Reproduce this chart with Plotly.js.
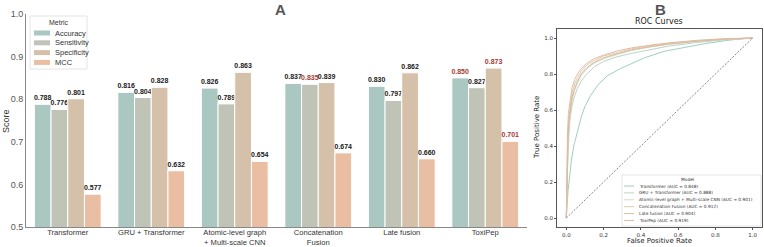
<!DOCTYPE html>
<html>
<head>
<meta charset="utf-8">
<script src="https://cdn.plot.ly/plotly-3.0.1.min.js"></script>
<style>html,body{margin:0;padding:0;background:#fff;}#chart{width:764px;height:247px;}</style>
</head>
<body>
<div id="chart"></div>
<script>
// ---------- Panel A data ----------
const categories = ['Transformer', 'GRU + Transformer', 'Atomic-level graph<br>+ Multi-scale CNN', 'Concatenation<br>Fusion', 'Late fusion', 'ToxiPep'];
const metricNames = ['Accuracy', 'Sensitivity', 'Specificity', 'MCC'];
const accuracy    = [0.788, 0.816, 0.826, 0.837, 0.830, 0.850];
const sensitivity = [0.776, 0.804, 0.789, 0.835, 0.797, 0.827];
const specificity = [0.801, 0.828, 0.863, 0.839, 0.862, 0.873];
const mcc         = [0.577, 0.632, 0.654, 0.674, 0.660, 0.701];
const yTicks = [0.5, 0.6, 0.7, 0.8, 0.9, 1.0];

// ---------- Panel B data ----------
const modelNames = ['Transformer', 'GRU + Transformer', 'Atomic-level graph + Multi-scale CNN', 'Concatenation Fusion', 'Late fusion', 'ToxiPep'];
const aucValues = [0.848, 0.888, 0.901, 0.912, 0.904, 0.919];
const fprTransformer = [0, 0.003, 0.01, 0.016, 0.027, 0.04, 0.06, 0.08, 0.10, 0.13, 0.17, 0.22, 0.29, 0.36, 0.42, 0.52, 0.62, 0.75, 0.89, 1];
const tprTransformer = [0, 0.08, 0.16, 0.21, 0.32, 0.40, 0.48, 0.56, 0.62, 0.68, 0.74, 0.79, 0.83, 0.86, 0.89, 0.925, 0.945, 0.97, 0.99, 1];
const fprGRU = [0, 0.003, 0.008, 0.014, 0.02, 0.03, 0.045, 0.06, 0.08, 0.11, 0.15, 0.20, 0.27, 0.35, 0.45, 0.55, 0.70, 0.85, 1];
const tprGRU = [0, 0.15, 0.32, 0.46, 0.55, 0.62, 0.68, 0.72, 0.76, 0.80, 0.84, 0.87, 0.895, 0.915, 0.935, 0.955, 0.975, 0.99, 1];
const fprAtomic = [0, 0.003, 0.008, 0.013, 0.02, 0.03, 0.045, 0.06, 0.08, 0.11, 0.15, 0.20, 0.28, 0.35, 0.45, 0.55, 0.70, 0.85, 1];
const tprAtomic = [0, 0.18, 0.36, 0.50, 0.58, 0.65, 0.71, 0.75, 0.79, 0.83, 0.86, 0.885, 0.91, 0.93, 0.95, 0.965, 0.98, 0.993, 1];
const fprConcat = [0, 0.002, 0.007, 0.012, 0.02, 0.03, 0.045, 0.06, 0.08, 0.11, 0.15, 0.20, 0.28, 0.35, 0.45, 0.55, 0.70, 0.85, 1];
const tprConcat = [0, 0.22, 0.42, 0.55, 0.63, 0.69, 0.745, 0.78, 0.815, 0.85, 0.875, 0.90, 0.92, 0.94, 0.957, 0.97, 0.985, 0.995, 1];
const fprLate = [0, 0.003, 0.008, 0.012, 0.02, 0.03, 0.045, 0.06, 0.08, 0.11, 0.15, 0.20, 0.28, 0.35, 0.45, 0.55, 0.70, 0.85, 1];
const tprLate = [0, 0.20, 0.38, 0.52, 0.60, 0.67, 0.72, 0.76, 0.80, 0.835, 0.865, 0.89, 0.915, 0.935, 0.952, 0.967, 0.982, 0.994, 1];
const fprToxiPep = [0, 0.002, 0.006, 0.011, 0.02, 0.03, 0.045, 0.06, 0.08, 0.11, 0.15, 0.20, 0.28, 0.35, 0.45, 0.55, 0.70, 0.85, 1];
const tprToxiPep = [0, 0.25, 0.45, 0.58, 0.66, 0.72, 0.77, 0.80, 0.83, 0.86, 0.885, 0.905, 0.93, 0.945, 0.96, 0.973, 0.987, 0.996, 1];
const diagonal = [0, 1];
const rocTicks = [0, 0.2, 0.4, 0.6, 0.8, 1.0];

// ---------- styles ----------
const W = 764, H = 247;
const px = x => x / W;
const py = y => 1 - y / H;
const metricColors = ['#abc7c1', '#bfc4b7', '#d5c0a9', '#e9bea3'];
const bestColor = '#a83a32';
const modelColors = ['#9ecfc3', '#bcd3c6', '#d8d6cc', '#dccdb0', '#d8bd9c', '#e6bb9f'];
const fontA = 'Liberation Sans, Arial, sans-serif';
const fontB = 'DejaVu Sans, sans-serif';

const seriesA = [accuracy, sensitivity, specificity, mcc];
const traces = [];
seriesA.forEach((vals, i) => {
  const best = Math.max(...vals);
  traces.push({
    type: 'bar', x: categories, y: vals, name: metricNames[i],
    xaxis: 'x', yaxis: 'y', showlegend: false,
    marker: {color: metricColors[i], line: {color: '#ffffff', width: 1}},
    texttemplate: '<b>%{y:.3f}</b>', textposition: 'outside', cliponaxis: false,
    constraintext: 'none',
    textfont: {family: fontA, size: 7, color: vals.map(v => v === best ? bestColor : '#1a1a1a')},
    hoverinfo: 'skip'
  });
});

const rocX = [fprTransformer, fprGRU, fprAtomic, fprConcat, fprLate, fprToxiPep];
const rocY = [tprTransformer, tprGRU, tprAtomic, tprConcat, tprLate, tprToxiPep];
rocX.forEach((fx, i) => {
  traces.push({
    type: 'scatter', mode: 'lines', x: fx, y: rocY[i], xaxis: 'x2', yaxis: 'y2',
    showlegend: false, line: {color: modelColors[i], width: 1}, hoverinfo: 'skip'
  });
});
traces.push({type: 'scatter', mode: 'lines', x: diagonal, y: diagonal, xaxis: 'x2', yaxis: 'y2',
  showlegend: false, line: {color: '#333', width: 0.6, dash: '2px,1.5px'}, hoverinfo: 'skip'});

const shapes = [];
const annotations = [];

// Panel labels & title
annotations.push({xref: 'paper', yref: 'paper', x: px(280), y: py(9), text: '<b>A</b>', showarrow: false,
  font: {family: fontA, size: 15, color: '#555'}, xanchor: 'center', yanchor: 'middle'});
annotations.push({xref: 'paper', yref: 'paper', x: px(660), y: py(9), text: '<b>B</b>', showarrow: false,
  font: {family: fontA, size: 15, color: '#555'}, xanchor: 'center', yanchor: 'middle'});
annotations.push({xref: 'paper', yref: 'paper', x: px(659), y: py(22), text: 'ROC Curves', showarrow: false,
  font: {family: fontB, size: 8, color: '#222'}, xanchor: 'center', yanchor: 'middle'});
annotations.push({xref: 'paper', yref: 'paper', x: px(6), y: py(121), text: 'Score', showarrow: false, textangle: -90,
  font: {family: fontA, size: 9, color: '#333'}, xanchor: 'center', yanchor: 'middle'});
annotations.push({xref: 'paper', yref: 'paper', x: px(659), y: py(241), text: 'False Positive Rate', showarrow: false,
  font: {family: fontB, size: 7, color: '#222'}, xanchor: 'center', yanchor: 'middle'});
annotations.push({xref: 'paper', yref: 'paper', x: px(537), y: py(128), text: 'True Positive Rate', showarrow: false, textangle: -90,
  font: {family: fontB, size: 7, color: '#222'}, xanchor: 'center', yanchor: 'middle'});

// Legend A
shapes.push({type: 'rect', xref: 'paper', yref: 'paper', x0: px(30), x1: px(87), y0: py(69), y1: py(16),
  line: {color: '#dddddd', width: 0.8}, fillcolor: 'rgba(255,255,255,0.85)'});
annotations.push({xref: 'paper', yref: 'paper', x: px(58.5), y: py(23), text: 'Metric', showarrow: false,
  font: {family: fontA, size: 7, color: '#333'}, xanchor: 'center', yanchor: 'middle'});
metricNames.forEach((m, i) => {
  const yc = 33 + i * 9.8;
  shapes.push({type: 'rect', xref: 'paper', yref: 'paper', x0: px(34), x1: px(50), y0: py(yc + 2.5), y1: py(yc - 2.5),
    line: {width: 0}, fillcolor: metricColors[i]});
  annotations.push({xref: 'paper', yref: 'paper', x: px(53), y: py(yc), text: m, showarrow: false,
    font: {family: fontA, size: 7.5, color: '#333'}, xanchor: 'left', yanchor: 'middle'});
});

// Legend B
shapes.push({type: 'rect', xref: 'paper', yref: 'paper', x0: px(622), x1: px(761), y0: py(226), y1: py(175),
  line: {color: '#dddddd', width: 0.8}, fillcolor: 'rgba(255,255,255,0.85)'});
annotations.push({xref: 'paper', yref: 'paper', x: px(687), y: py(179), text: 'Model', showarrow: false,
  font: {family: fontB, size: 4.4, color: '#333'}, xanchor: 'center', yanchor: 'middle'});
modelNames.forEach((m, i) => {
  const yc = 186 + i * 6.9;
  shapes.push({type: 'line', xref: 'paper', yref: 'paper', x0: px(624), x1: px(634), y0: py(yc), y1: py(yc),
    line: {color: modelColors[i], width: 1}});
  annotations.push({xref: 'paper', yref: 'paper', x: px(636.5), y: py(yc), text: m + ' (AUC = ' + aucValues[i].toFixed(3) + ')',
    showarrow: false, font: {family: fontB, size: 4.3, color: '#333'}, xanchor: 'left', yanchor: 'middle'});
});

const layout = {
  width: W, height: H, margin: {l: 0, r: 0, t: 0, b: 0},
  paper_bgcolor: '#fff', plot_bgcolor: '#fff',
  barmode: 'group', bargap: 0.2, bargroupgap: 0,
  xaxis: {domain: [px(26), px(527)], anchor: 'y', showgrid: false, zeroline: false,
    showline: true, linecolor: '#888', linewidth: 1, ticks: '', ticklabelstandoff: -2,
    tickfont: {family: fontA, size: 7.6, color: '#333'}},
  yaxis: {domain: [py(227), py(14)], anchor: 'x', range: [0.5, 1.0], tickvals: yTicks,
    ticktext: yTicks.map(v => v.toFixed(1)), showgrid: false, zeroline: false,
    showline: true, linecolor: '#888', linewidth: 1, ticks: '',
    tickfont: {family: fontA, size: 9, color: '#555'}},
  xaxis2: {domain: [px(557), px(762)], anchor: 'y2', range: [-0.05, 1.05], tickvals: rocTicks,
    ticktext: rocTicks.map(v => v.toFixed(1)), showgrid: false, zeroline: false,
    showline: true, mirror: true, linecolor: '#555', linewidth: 1, ticks: 'outside', ticklen: 2,
    tickcolor: '#555', tickfont: {family: fontB, size: 5.5, color: '#333'}},
  yaxis2: {domain: [py(227), py(29)], anchor: 'x2', range: [-0.05, 1.05], tickvals: rocTicks,
    ticktext: rocTicks.map(v => v.toFixed(1)), showgrid: false, zeroline: false,
    showline: true, mirror: true, linecolor: '#555', linewidth: 1, ticks: 'outside', ticklen: 2,
    tickcolor: '#555', tickfont: {family: fontB, size: 5.5, color: '#333'}},
  shapes: shapes, annotations: annotations, showlegend: false
};

Plotly.newPlot('chart', traces, layout, {staticPlot: true, displayModeBar: false});
</script>
</body>
</html>
